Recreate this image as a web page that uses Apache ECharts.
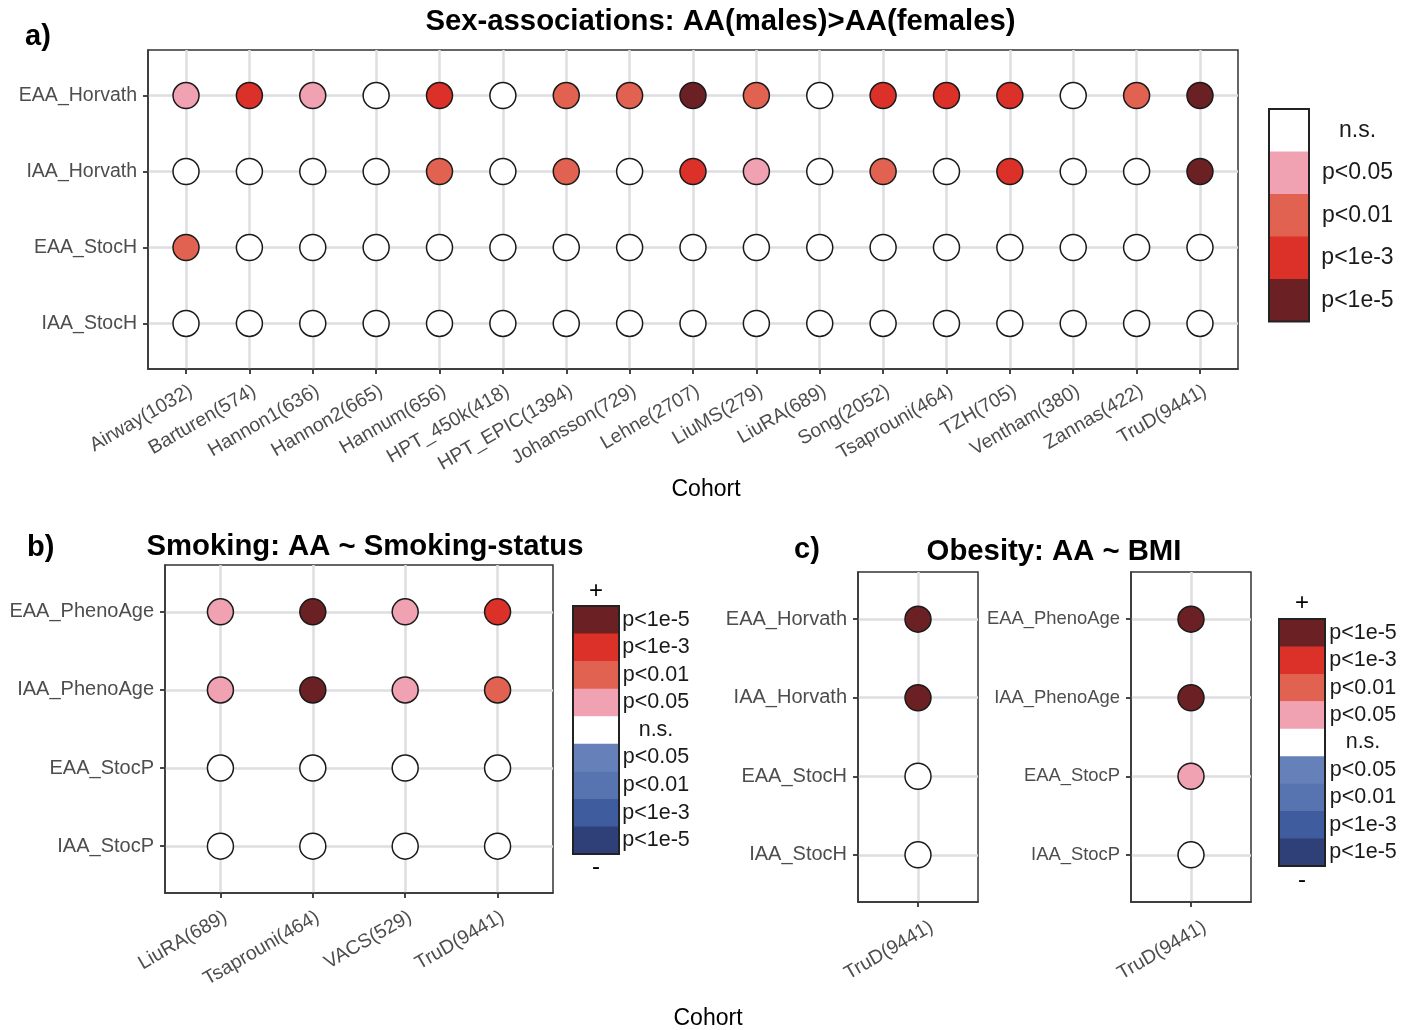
<!DOCTYPE html>
<html>
<head>
<meta charset="utf-8">
<title>Epigenetic age acceleration associations</title>
<script src="https://cdn.jsdelivr.net/npm/echarts@6/dist/echarts.min.js"></script>
<style>
  html, body { margin: 0; padding: 0; background: #ffffff; }
  #chart { width: 1416px; height: 1030px; }
</style>
</head>
<body>
<div id="chart"></div>
<script>
// ---- data: significance level per clock (row) x cohort (column) ----
// level: 0 = n.s., 1 = p<0.05, 2 = p<0.01, 3 = p<1e-3, 4 = p<1e-5 (negative = inverse direction)
const sexCohorts = ['Airway(1032)', 'Barturen(574)', 'Hannon1(636)', 'Hannon2(665)', 'Hannum(656)',
  'HPT_450k(418)', 'HPT_EPIC(1394)', 'Johansson(729)', 'Lehne(2707)', 'LiuMS(279)', 'LiuRA(689)',
  'Song(2052)', 'Tsaprouni(464)', 'TZH(705)', 'Ventham(380)', 'Zannas(422)', 'TruD(9441)'];
const sexClocks = ['EAA_Horvath', 'IAA_Horvath', 'EAA_StocH', 'IAA_StocH'];
const sexLevels = [
  [1, 3, 1, 0, 3, 0, 2, 2, 4, 2, 0, 3, 3, 3, 0, 2, 4],
  [0, 0, 0, 0, 2, 0, 2, 0, 3, 1, 0, 2, 0, 3, 0, 0, 4],
  [2, 0, 0, 0, 0, 0, 0, 0, 0, 0, 0, 0, 0, 0, 0, 0, 0],
  [0, 0, 0, 0, 0, 0, 0, 0, 0, 0, 0, 0, 0, 0, 0, 0, 0]
];

const smokeCohorts = ['LiuRA(689)', 'Tsaprouni(464)', 'VACS(529)', 'TruD(9441)'];
const smokeClocks = ['EAA_PhenoAge', 'IAA_PhenoAge', 'EAA_StocP', 'IAA_StocP'];
const smokeLevels = [
  [1, 4, 1, 3],
  [1, 4, 1, 2],
  [0, 0, 0, 0],
  [0, 0, 0, 0]
];

const bmiCohorts = ['TruD(9441)'];
const bmiClocksH = ['EAA_Horvath', 'IAA_Horvath', 'EAA_StocH', 'IAA_StocH'];
const bmiLevelsH = [[4], [4], [0], [0]];
const bmiClocksP = ['EAA_PhenoAge', 'IAA_PhenoAge', 'EAA_StocP', 'IAA_StocP'];
const bmiLevelsP = [[4], [4], [1], [0]];

// legend keys
const oneSidedLevels = [0, 1, 2, 3, 4];
const oneSidedLabels = ['n.s.', 'p<0.05', 'p<0.01', 'p<1e-3', 'p<1e-5'];
const twoSidedLevels = [4, 3, 2, 1, 0, -1, -2, -3, -4];
const twoSidedLabels = ['p<1e-5', 'p<1e-3', 'p<0.01', 'p<0.05', 'n.s.', 'p<0.05', 'p<0.01', 'p<1e-3', 'p<1e-5'];

// ---- styling ----
const levelColor = {
  '4': '#6b2124', '3': '#dc3128', '2': '#e26252', '1': '#f0a1b2', '0': '#ffffff',
  '-1': '#6681b9', '-2': '#5774b1', '-3': '#3f5d9e', '-4': '#2f3f78'
};
const FONT = '"Liberation Sans", Arial, Helvetica, sans-serif';
const TICK_TEXT = '#4d4d4d';
const FRAME = '#333333';

// per panel: plot box [left, top, width, height], tick label sizes and x-label nudges
const panels = [
  { cohorts: sexCohorts, clocks: sexClocks, levels: sexLevels, box: [148, 50, 1090, 319],
    yFont: 19.5, xMargin: 12, xPad: 0, xLine: 20 },
  { cohorts: smokeCohorts, clocks: smokeClocks, levels: smokeLevels, box: [165, 565, 388, 328],
    yFont: 20, xMargin: 14, xPad: 0, xLine: 20 },
  { cohorts: bmiCohorts, clocks: bmiClocksH, levels: bmiLevelsH, box: [858, 572, 120, 330],
    yFont: 20, xMargin: 12, xPad: -6, xLine: 34 },
  { cohorts: bmiCohorts, clocks: bmiClocksP, levels: bmiLevelsP, box: [1131, 572, 120, 330],
    yFont: 18.4, xMargin: 12, xPad: -6, xLine: 34 }
];

const grids = [], xAxes = [], yAxes = [], series = [];
panels.forEach((p, i) => {
  const [left, top, width, height] = p.box;
  grids.push({
    left, top, width, height,
    show: true, borderColor: FRAME, borderWidth: 1.5,
    containLabel: false, outerBoundsMode: 'none'
  });
  const colIdx = p.cohorts.map((_, k) => k);
  const rowIdx = p.clocks.map((_, k) => k);
  xAxes.push({
    type: 'value', gridIndex: i,
    min: -0.6, max: p.cohorts.length - 1 + 0.6,
    axisLine: { show: true, onZero: false, lineStyle: { color: FRAME, width: 1.5 } },
    axisTick: { show: true, customValues: colIdx, length: 5, lineStyle: { color: FRAME, width: 1.8 } },
    axisLabel: {
      customValues: colIdx, rotate: 30, margin: p.xMargin,
      align: 'right', verticalAlign: 'top', lineHeight: p.xLine,
      padding: [0, p.xPad, 0, 0],
      color: TICK_TEXT, fontSize: 19.5, fontFamily: FONT,
      formatter: v => p.cohorts[Math.round(v)]
    },
    splitLine: { show: true, lineStyle: { color: '#dedee2', width: 2.5 } }
  });
  yAxes.push({
    type: 'value', gridIndex: i, inverse: true,
    min: -0.6, max: p.clocks.length - 1 + 0.6,
    axisLine: { show: true, onZero: false, lineStyle: { color: FRAME, width: 1.5 } },
    axisTick: { show: true, customValues: rowIdx, length: 5, lineStyle: { color: FRAME, width: 1.8 } },
    axisLabel: {
      customValues: rowIdx, margin: 11,
      color: TICK_TEXT, fontSize: p.yFont, fontFamily: FONT,
      formatter: v => p.clocks[Math.round(v)]
    },
    splitLine: { show: true, lineStyle: { color: '#dedee2', width: 2.5 } }
  });
  const data = [];
  p.levels.forEach((row, r) => row.forEach((lv, c) => data.push([c, r, lv])));
  series.push({
    type: 'scatter', xAxisIndex: i, yAxisIndex: i,
    data, symbol: 'circle', symbolSize: 26, silent: true,
    itemStyle: {
      color: prm => levelColor[String(prm.data[2])],
      borderColor: '#1a1a1a', borderWidth: 1.5, opacity: 1
    },
    emphasis: { disabled: true }
  });
});

// ---- colour keys ----
function colourKey(x, y, w, h, levels, labels, labelCx, fontSize) {
  const els = [];
  const cell = h / levels.length;
  levels.forEach((lv, k) => {
    els.push({
      type: 'rect', silent: true,
      shape: { x: x, y: y + k * cell, width: w, height: cell + 0.5 },
      style: { fill: levelColor[String(lv)] }
    });
    els.push({
      type: 'text', silent: true, x: labelCx, y: y + (k + 0.5) * cell,
      style: { text: labels[k], fill: '#1a1a1a', font: fontSize + 'px ' + FONT, align: 'center', verticalAlign: 'middle' }
    });
  });
  els.push({
    type: 'rect', silent: true, z: 10,
    shape: { x: x, y: y, width: w, height: h },
    style: { fill: 'none', stroke: '#222222', lineWidth: 2 }
  });
  return els;
}

function label(text, x, y, size, bold, align) {
  return {
    type: 'text', silent: true, x, y,
    style: {
      text, fill: '#000000', align: align || 'center', verticalAlign: 'middle',
      font: (bold ? 'bold ' : '') + size + 'px ' + FONT
    }
  };
}

const graphics = [].concat(
  colourKey(1269, 109, 40, 212.5, oneSidedLevels, oneSidedLabels, 1357.5, 23),
  colourKey(573, 606, 46, 248, twoSidedLevels, twoSidedLabels, 656, 21.5),
  colourKey(1279, 619, 46, 247, twoSidedLevels, twoSidedLabels, 1363, 21.5),
  [
    label('+', 596, 591, 24, false), label('-', 596, 867, 24, false),
    label('+', 1302, 603, 24, false), label('-', 1302, 880, 24, false),
    label('a)', 25, 37, 29, true, 'left'),
    label('Sex-associations: AA(males)>AA(females)', 720.5, 22, 29.3, true),
    label('Cohort', 706, 490, 23, false),
    label('b)', 27, 548, 29, true, 'left'),
    label('Smoking: AA ~ Smoking-status', 365, 547, 29.3, true),
    label('c)', 794, 550, 29, true, 'left'),
    label('Obesity: AA ~ BMI', 1054, 552, 29.3, true),
    label('Cohort', 708, 1019, 23, false)
  ]
);

const chart = echarts.init(document.getElementById('chart'), null, { renderer: 'canvas' });
chart.setOption({
  backgroundColor: '#ffffff',
  animation: false,
  grid: grids,
  xAxis: xAxes,
  yAxis: yAxes,
  series: series,
  graphic: { elements: graphics }
});
</script>
</body>
</html>
